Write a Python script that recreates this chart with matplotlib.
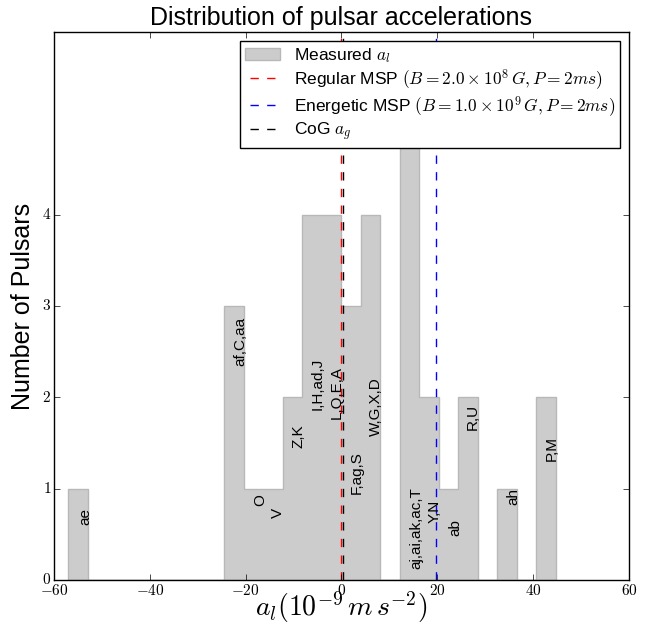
import numpy as np
import matplotlib
matplotlib.use("Agg")
import matplotlib.pyplot as plt
from matplotlib.ticker import FuncFormatter

# measured accelerations, binned into 25 equal bins between min and max
acc_min, acc_max = -57.0, 44.7
counts = [1, 0, 0, 0, 0, 0, 0, 0, 3, 1, 1, 2, 4, 4, 3, 4, 0, 5, 2, 1, 2, 0, 1, 0, 2]

# pulsar ids written on the histogram (where they sit in data coords)
names = ["ae", "af,C,aa", "O", "V", "Z,K", "I,H,ad,J", "L,Q,E,A", "F,ag,S",
         "W,G,X,D", "aj,ai,ak,ac,T", "Y,N", "ab", "R,U", "ah", "P,M"]
name_x = [-53.4, -21.1, -17.0, -13.2, -9.0, -4.9, -0.9, 3.2,
          7.3, 15.6, 19.4, 23.8, 27.4, 35.9, 43.8]
name_y = [0.69, 2.61, 0.88, 0.73, 1.57, 2.15, 2.05, 1.18,
          1.90, 0.57, 0.75, 0.57, 1.78, 0.91, 1.44]

# predicted / reference accelerations
a_regular = -0.1
a_energetic = 19.8
a_cog = 0.4

plt.style.use("classic")
plt.rcParams["figure.facecolor"] = "white"
plt.rcParams["savefig.facecolor"] = "white"
plt.rcParams["font.family"] = "sans-serif"
plt.rcParams["font.sans-serif"] = ["Liberation Sans", "DejaVu Sans"]
plt.rcParams["mathtext.fontset"] = "cm"

edges = np.linspace(acc_min, acc_max, len(counts) + 1)
centers = 0.5 * (edges[:-1] + edges[1:])

fig = plt.figure(figsize=(6.47, 6.26), dpi=100)
ax = fig.add_axes([0.0835, 0.0735, 0.8885, 0.8755])

ax.hist(centers, bins=edges, weights=counts, histtype="stepfilled",
        facecolor="0.8", edgecolor="0.72", linewidth=1.0,
        label=r"Measured $a_l$")
ax.axvline(a_regular, color="r", ls="--", lw=1,
           label=r"Regular MSP $(B = 2.0\times10^8\,G, P = 2ms)$")
ax.axvline(a_energetic, color="b", ls="--", lw=1,
           label=r"Energetic MSP $(B = 1.0\times10^9\,G, P = 2ms)$")
ax.axvline(a_cog, color="k", ls="--", lw=1, label=r"CoG $a_g$")

for nm, x, y in zip(names, name_x, name_y):
    ax.text(x, y, nm, rotation=90, ha="center", va="center", fontsize=11)

ax.set_xlim(-60, 60)
ax.set_ylim(0, 6)
ax.set_xticks(np.arange(-60, 61, 20))
ax.set_yticks(range(5))
fmt = FuncFormatter(lambda v, p: r"$\mathbf{%d}$" % v)
ax.xaxis.set_major_formatter(fmt)
ax.yaxis.set_major_formatter(fmt)
ax.tick_params(labelsize=11, pad=2)

ax.set_title("Distribution of pulsar accelerations", fontsize=18)
ax.set_ylabel("Number of Pulsars", fontsize=18)
ax.set_xlabel(r"$a_l(10^{-9}\,m\,s^{-2})$", fontsize=20, labelpad=-6)

ax.legend(loc="upper right", fontsize=12.5, numpoints=2, framealpha=1,
          labelspacing=0.12, borderpad=0.3)

fig.savefig("out.png", dpi=100)
